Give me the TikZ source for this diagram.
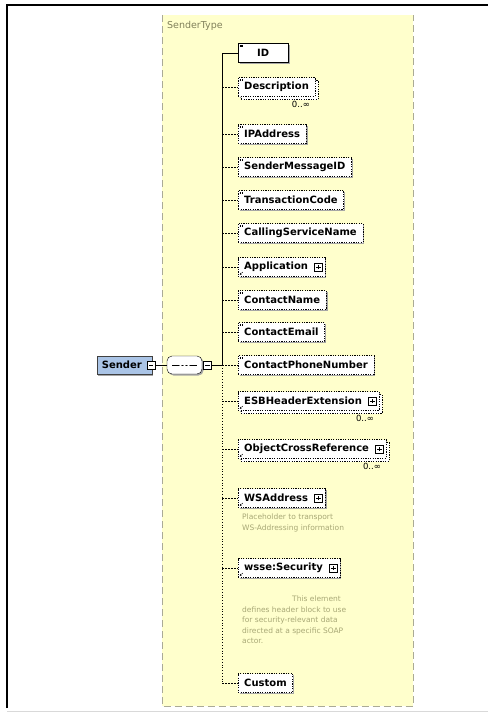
\documentclass[tikz,border=0pt]{standalone}
\usepackage{fontspec}
\setmainfont{DejaVu Sans}
\usetikzlibrary{arrows.meta,positioning,shadows}
\definecolor{typefill}{RGB}{255,255,204}
\definecolor{typeedge}{RGB}{170,170,150}
\definecolor{typelabel}{RGB}{128,128,90}
\definecolor{notetext}{RGB}{168,168,118}
\definecolor{senderfill}{RGB}{170,196,230}

\begin{document}
\begin{tikzpicture}[x=1pt, y=-1pt,
  elem/.style={draw, fill=white, anchor=west, font=\fontsize{10}{12}\selectfont\bfseries,
    minimum height=19pt, inner xsep=6pt, inner ysep=2pt,
    drop shadow={shadow xshift=1.5pt, shadow yshift=-1.5pt, fill=black!35, opacity=1}},
  opt/.style={elem, dash pattern=on 1.2pt off 1.2pt},
  many/.style={copy shadow={shadow xshift=3pt, shadow yshift=-3pt}},
  simple/.style={path picture={\draw[line width=0.4pt]
    ([xshift=1.5pt,yshift=-1.5pt]path picture bounding box.north west) -- ++(3pt,0pt)
    ([xshift=1.5pt,yshift=-3pt]path picture bounding box.north west) -- ++(3pt,0pt);}},
  linked/.style={path picture={\draw[line width=0.6pt, -{Latex[length=2pt,width=2pt]}]
    ([xshift=4.5pt,yshift=4.5pt]path picture bounding box.south west) --
    ([xshift=1.5pt,yshift=1.5pt]path picture bounding box.south west);}},
  expand/.style={draw, fill=white, minimum size=8pt, inner sep=0pt,
    path picture={\draw ([xshift=1.8pt]path picture bounding box.west) --
      ([xshift=-1.8pt]path picture bounding box.east)
      ([yshift=1.8pt]path picture bounding box.south) --
      ([yshift=-1.8pt]path picture bounding box.north);}},
  collapse/.style={draw, fill=white, minimum size=8pt, inner sep=0pt,
    path picture={\draw ([xshift=1.8pt]path picture bounding box.west) --
      ([xshift=-1.8pt]path picture bounding box.east);}},
  sender/.style={draw=black!75, fill=senderfill, font=\fontsize{10}{12}\selectfont\bfseries,
    minimum height=18pt, inner xsep=5pt,
    drop shadow={shadow xshift=1.5pt, shadow yshift=-1.5pt, fill=black!35, opacity=1}},
  seqbox/.style={draw, fill=white, rounded corners=5pt, minimum width=35pt, minimum height=18pt,
    drop shadow={shadow xshift=1.5pt, shadow yshift=-1.5pt, fill=black!35, opacity=1},
    path picture={\draw ([xshift=5pt]path picture bounding box.west) --
      ([xshift=-5pt]path picture bounding box.east);
      \fill (path picture bounding box.center) circle (1.3pt)
        ([xshift=-4pt]path picture bounding box.center) circle (1.3pt)
        ([xshift=4pt]path picture bounding box.center) circle (1.3pt);}},
  mult/.style={font=\fontsize{8.5}{10}\selectfont, inner sep=0pt},
  note/.style={text=notetext, font=\fontsize{7.5}{10.5}\selectfont, align=left, inner sep=0pt},
  wire/.style={line width=0.7pt},
  optwire/.style={line width=0.7pt, dash pattern=on 1.5pt off 1.5pt}
]
\useasboundingbox (0,0) rectangle (488,713);
\draw[line width=1.2pt] (7,708) -- (7,5) -- (488,5);
\draw[black!15] (7,711.5) -- (488,711.5);

\node[fill=typefill, minimum width=251pt, minimum height=691pt, inner sep=0pt, anchor=north west]
  (stype) at (162,15) {};
\draw[typeedge, line width=0.8pt, dash pattern=on 7pt off 4pt]
  (stype.north west) -- (stype.south west) -- (stype.south east) -- (stype.north east);
\node[text=typelabel, font=\fontsize{9.5}{11}\selectfont, anchor=north west, inner sep=0pt]
  (stlabel) at ([xshift=5pt,yshift=-6pt]stype.north west) {SenderType};

\node[elem, simple, minimum width=50pt] (id) at (238,53) {ID};
\node[opt, many, simple] (desc) at (238,87) {Description};
\node[opt, simple] (ip) at (238,134) {IPAddress};
\node[opt, simple] (smid) at (238,167) {SenderMessageID};
\node[opt, simple] (tc) at (238,200) {TransactionCode};
\node[opt, simple] (csn) at (238,233) {CallingServiceName};
\node[opt, linked] (app) at (238,267) {Application\hspace*{11pt}};
\node[opt, simple] (cname) at (238,300) {ContactName};
\node[opt, simple] (cemail) at (238,332) {ContactEmail};
\node[opt, simple] (cphone) at (238,365) {ContactPhoneNumber};
\node[opt, many, linked] (esb) at (238,401) {ESBHeaderExtension\hspace*{11pt}};
\node[opt, many, linked] (ocr) at (238,449) {ObjectCrossReference\hspace*{11pt}};
\node[opt, linked] (wsa) at (238,498) {WSAddress\hspace*{11pt}};
\node[opt, linked] (wsse) at (238,568) {wsse:Security\hspace*{11pt}};
\node[opt] (custom) at (238,683) {Custom};

\foreach \n in {app,esb,ocr,wsa,wsse}
  \node[expand, left=2.5pt of \n.east] (\n x) {};

\node[mult, below left=4pt and 5pt of desc.south east] (descm) {0..∞};
\node[mult, below left=4pt and 5pt of esb.south east] (esbm) {0..∞};
\node[mult, below left=4pt and 5pt of ocr.south east] (ocrm) {0..∞};

\node[note, below right=6pt and 4pt of wsa.south west] (wsanote)
  {Placeholder to transport\\WS-Addressing information};
\node[note, below right=18pt and 4pt of wsse.south west] (wssenote)
  {\hspace*{50pt}This element\\defines header block to use\\for security-relevant data\\directed at a specific SOAP\\actor.};

\node[sender, anchor=east] (sender) at (152,365) {Sender\hspace*{5pt}};
\node[collapse] (sendx) at ([xshift=-1pt]sender.east) {};
\node[seqbox] (seq) at (184.5,365) {};
\node[collapse, right=1pt of seq] (seqx) {};
\coordinate (spine) at (222,365);

\draw[wire] (sendx) -- (seq);
\draw[wire] (seqx) -- (spine);
\draw[wire] (spine |- id.west) -- (spine);
\draw[line width=0.9pt, dash pattern=on 1pt off 1.8pt] (spine) -- (spine |- custom.west);
\draw[wire] (spine |- id.west) -- (id.west);
\foreach \n in {desc,ip,smid,tc,csn,app,cname,cemail,cphone,esb,ocr,wsa,wsse,custom}
  \draw[optwire] (spine |- \n.west) -- (\n.west);
\end{tikzpicture}
\end{document}
